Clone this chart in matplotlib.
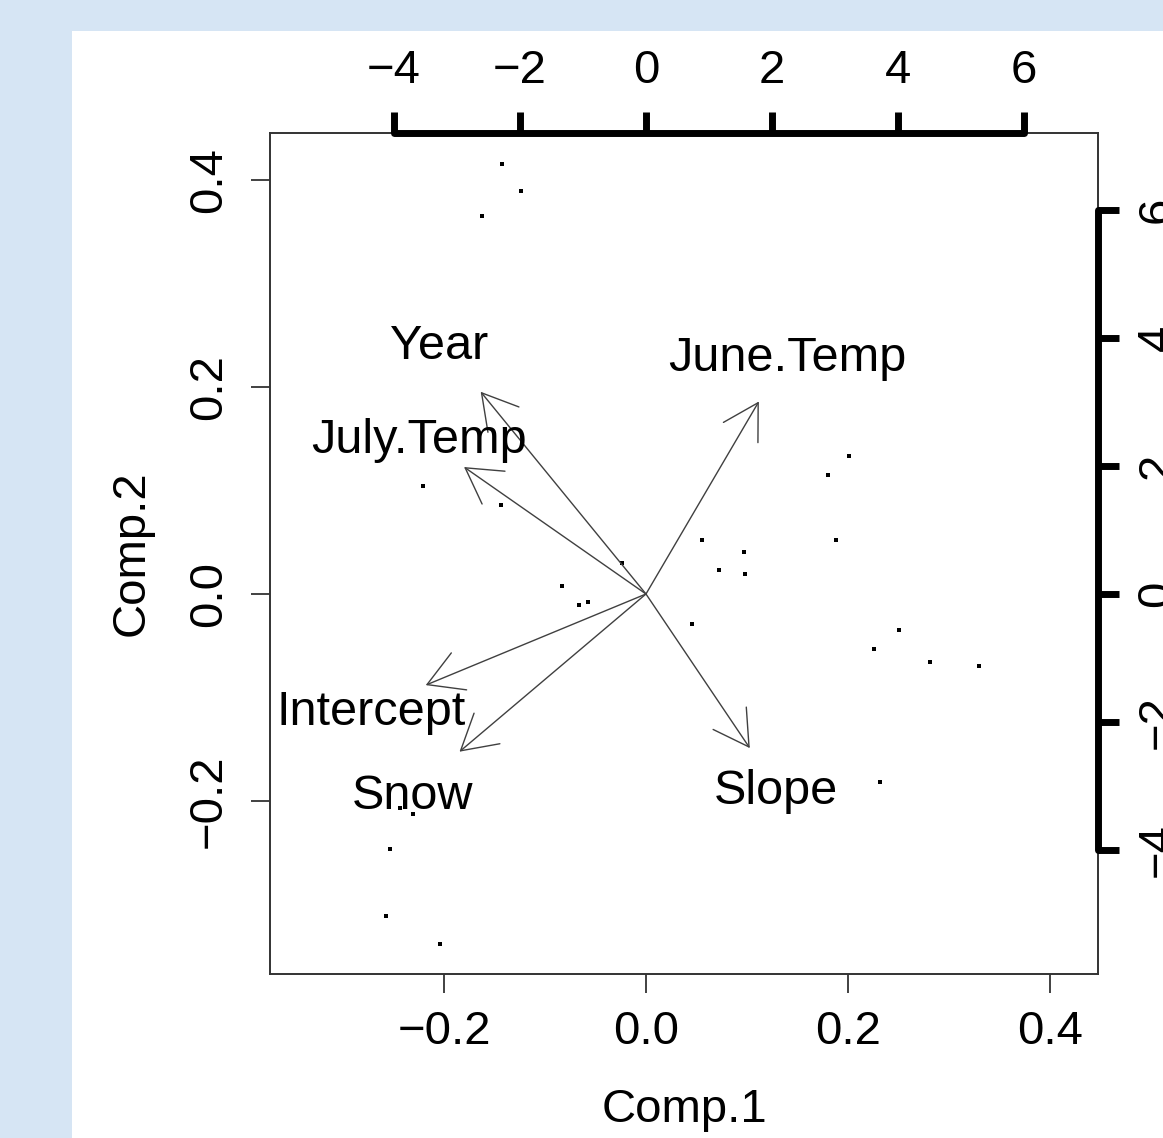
import numpy as np
import matplotlib
matplotlib.use('Agg')
import matplotlib.pyplot as plt
from matplotlib.patches import Rectangle

plt.rcParams['font.family'] = ['Liberation Sans', 'DejaVu Sans']

# scores (Comp.1, Comp.2)
pc1 = [-0.143, -0.124, -0.162, -0.221, -0.144, -0.024, -0.083, -0.066, -0.057,
       0.046, 0.055, 0.097, 0.072, 0.098, 0.201, 0.180, 0.188, 0.250, 0.226,
       0.281, 0.330, 0.232, -0.244, -0.231, -0.253, -0.257, -0.204]
pc2 = [0.415, 0.389, 0.365, 0.104, 0.086, 0.030, 0.008, -0.011, -0.008,
       -0.029, 0.052, 0.041, 0.023, 0.019, 0.133, 0.115, 0.052, -0.035, -0.053,
       -0.066, -0.070, -0.182, -0.207, -0.213, -0.246, -0.311, -0.338]

# loadings (variable arrows, upper/right scale)
var_names = ['Year', 'July.Temp', 'June.Temp', 'Intercept', 'Snow', 'Slope']
load1 = [-3.28, -3.61, 2.24, -4.37, -3.70, 2.06]
load2 = [3.95, 2.48, 3.76, -1.78, -3.08, -3.01]

score_ticks = [-0.2, 0.0, 0.2, 0.4]
load_ticks = [-4, -2, 0, 2, 4, 6]

W, H = 1163, 1138
fig = plt.figure(figsize=(W / 100, H / 100), dpi=100)
fig.patch.set_facecolor('#d6e5f4')
fig.patches.append(Rectangle((72 / W, 0), 1, 1 - 31 / H, transform=fig.transFigure,
                             facecolor='white', edgecolor='none', zorder=-10))

rect = [270 / W, 1 - 974 / H, 828 / W, 841 / H]
fs = 34

# score axes (bottom / left)
ax = fig.add_axes(rect)
ax.patch.set_visible(False)
ax.set_xlim(-0.3723, 0.4475)
ax.set_ylim(-0.3671, 0.4454)
ax.plot(pc1, pc2, 's', ms=3, mew=0, color='black')
ax.set_xticks(score_ticks)
ax.set_yticks(score_ticks)
ax.set_xticklabels(['%.1f' % t if t >= 0 else '\u2212%.1f' % -t for t in score_ticks])
ax.set_yticklabels(['%.1f' % t if t >= 0 else '\u2212%.1f' % -t for t in score_ticks])
ax.tick_params(direction='out', length=14, width=1.3, labelsize=fs, color='#333333')
ax.tick_params(axis='x', pad=12)
ax.tick_params(axis='y', pad=14)
for lab in ax.get_yticklabels():
    lab.set_rotation(90)
    lab.set_va('center')
    lab.set_ha('right')
for s in ax.spines.values():
    s.set_linewidth(1.4)
    s.set_color('#333333')

# loading axes (top / right)
ax2 = fig.add_axes(rect)
ax2.patch.set_visible(False)
ax2.set_xlim(-5.968, 7.175)
ax2.set_ylim(-5.9375, 7.203)
ax2.xaxis.tick_top()
ax2.yaxis.tick_right()
ax2.set_xticks(load_ticks)
ax2.set_yticks(load_ticks)
ax2.set_xticklabels([str(t).replace('-', '\u2212') for t in load_ticks])
ax2.set_yticklabels([str(t).replace('-', '\u2212') for t in load_ticks])
ax2.tick_params(direction='out', length=15, width=5, labelsize=fs, color='black')
ax2.tick_params(axis='x', pad=13.5)
ax2.tick_params(axis='y', pad=12)
for lab in ax2.get_yticklabels():
    lab.set_rotation(90)
    lab.set_va('center')
    lab.set_ha('left')
ax2.spines['left'].set_visible(False)
ax2.spines['bottom'].set_visible(False)
for side in ['top', 'right']:
    ax2.spines[side].set_linewidth(5)
    ax2.spines[side].set_bounds(-4, 6)
    ax2.spines[side].set_capstyle('round')

for name, lx, ly in zip(var_names, load1, load2):
    ax2.annotate('', xy=(0.8 * lx, 0.8 * ly), xytext=(0, 0),
                 arrowprops=dict(arrowstyle='->, head_length=2.49, head_width=1.44',
                                 mutation_scale=10, lw=1.0, color='#404040',
                                 shrinkA=0, shrinkB=0))
    ax2.text(lx, ly, name, ha='center', va='center_baseline', fontsize=35)

fig.text(684 / W, 1 - 1110 / H, 'Comp.1', ha='center', va='center', fontsize=fs)
fig.text(132 / W, 1 - 553 / H, 'Comp.2', ha='center', va='center', fontsize=fs,
         rotation=90)

fig.savefig('out.png', dpi=100, facecolor=fig.get_facecolor())
